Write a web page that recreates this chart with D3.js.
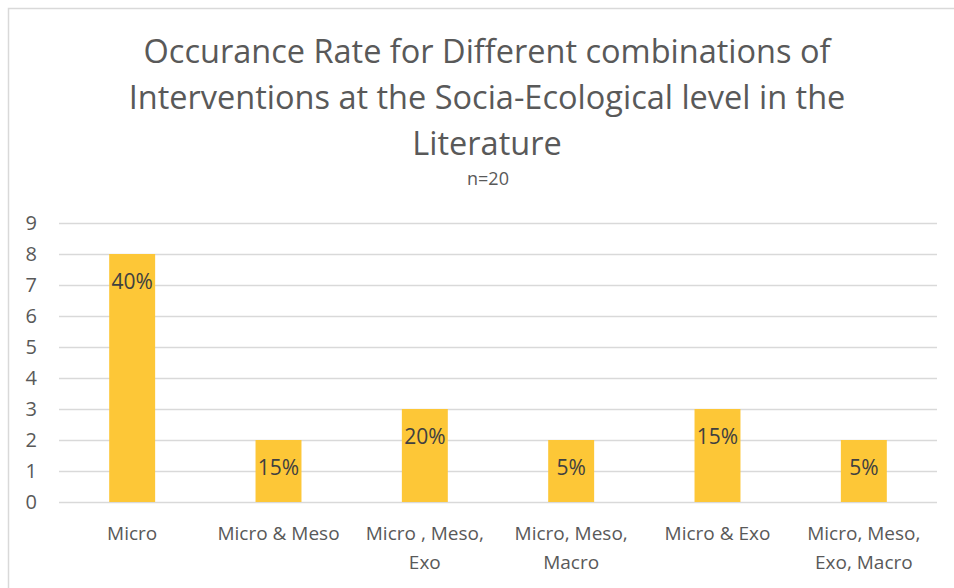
<!DOCTYPE html>
<html>
<head>
<meta charset="utf-8">
<script src="https://cdn.jsdelivr.net/npm/d3@7"></script>
<style>
  body { margin: 0; background: #fff; }
  svg text { font-family: "Open Sans", Lato, sans-serif; }
</style>
</head>
<body>
<div id="chart"></div>
<script>
// data
const categories = [
    ["Micro"],
    ["Micro & Meso"],
    ["Micro , Meso,", "Exo"],
    ["Micro, Meso,", "Macro"],
    ["Micro & Exo"],
    ["Micro, Meso,", "Exo, Macro"]
];
const counts = [8, 2, 3, 2, 3, 2];
const barLabels = ["40%", "15%", "20%", "5%", "15%", "5%"];
const yTicks = [0, 1, 2, 3, 4, 5, 6, 7, 8, 9];
const titleLines = [
    "Occurance  Rate for Different combinations of",
    "Interventions at the Socia-Ecological level in the",
    "Literature"
];
const subtitle = "n=20";

let width = 954, height = 588;
let margin = {top: 223, right: 17, bottom: 86, left: 59};

let svg = d3.select("#chart").append("svg")
    .attr("width", width)
    .attr("height", height);

// chart border
svg.append("rect")
    .attr("x", 8.5).attr("y", 8.5)
    .attr("width", width + 20).attr("height", height + 20)
    .attr("fill", "none")
    .attr("stroke", "#d9d9d9")
    .attr("stroke-width", 1.5);

// title
svg.append("g").selectAll("text")
    .data(titleLines)
    .enter().append("text")
    .attr("x", 487)
    .attr("y", function (d, i) { return 63 + i * 46; })
    .attr("text-anchor", "middle")
    .attr("font-family", "Lato, sans-serif")
    .attr("font-size", 32.5)
    .attr("fill", "#595959")
    .text(function (d) { return d; });

svg.append("text")
    .attr("x", 488).attr("y", 185)
    .attr("text-anchor", "middle")
    .attr("font-family", "Lato, sans-serif")
    .attr("font-size", 18)
    .attr("fill", "#595959")
    .text(subtitle);

let x = d3.scaleBand()
    .domain(d3.range(categories.length))
    .range([margin.left, width - margin.right])
    .paddingInner(0.686)
    .paddingOuter(0.343);

let y = d3.scaleLinear()
    .domain([0, 9])
    .range([height - margin.bottom, margin.top]);

// gridlines
svg.append("g")
    .attr("class", "grid")
    .attr("transform", "translate(" + margin.left + ",0)")
    .call(d3.axisLeft(y).tickValues(yTicks).tickSize(-(width - margin.left - margin.right)).tickFormat(""))
    .call(function (g) { g.select(".domain").remove(); })
    .selectAll("line")
    .attr("stroke", "#d9d9d9")
    .attr("stroke-width", 1.5);

// y axis labels
svg.append("g")
    .attr("transform", "translate(" + margin.left + ",0)")
    .call(d3.axisLeft(y).tickValues(yTicks).tickSize(0).tickPadding(22))
    .call(function (g) { g.select(".domain").remove(); })
    .selectAll("text")
    .attr("font-size", 20)
    .attr("font-family", "'Open Sans', sans-serif")
    .attr("fill", "#595959");

// bars
svg.append("g").selectAll("rect")
    .data(counts)
    .enter().append("rect")
    .attr("x", function (d, i) { return x(i); })
    .attr("y", function (d) { return y(d); })
    .attr("width", x.bandwidth())
    .attr("height", function (d) { return y(0) - y(d); })
    .attr("fill", "#fdc737");

// bar labels (inside end)
svg.append("g").selectAll("text")
    .data(counts)
    .enter().append("text")
    .attr("x", function (d, i) { return x(i) + x.bandwidth() / 2; })
    .attr("y", function (d) { return y(d) + 35; })
    .attr("text-anchor", "middle")
    .attr("font-size", 21)
    .attr("fill", "#404040")
    .text(function (d, i) { return barLabels[i]; });

// category labels
let cat = svg.append("g").selectAll("text")
    .data(categories)
    .enter().append("text")
    .attr("text-anchor", "middle")
    .attr("font-size", 19)
    .attr("fill", "#595959")
    .attr("transform", function (d, i) {
        return "translate(" + (x(i) + x.bandwidth() / 2) + "," + (y(0) + 38) + ")";
    });

cat.selectAll("tspan")
    .data(function (d) { return d; })
    .enter().append("tspan")
    .attr("x", 0)
    .attr("dy", function (d, i) { return i === 0 ? 0 : 29; })
    .text(function (d) { return d; });
</script>
</body>
</html>
